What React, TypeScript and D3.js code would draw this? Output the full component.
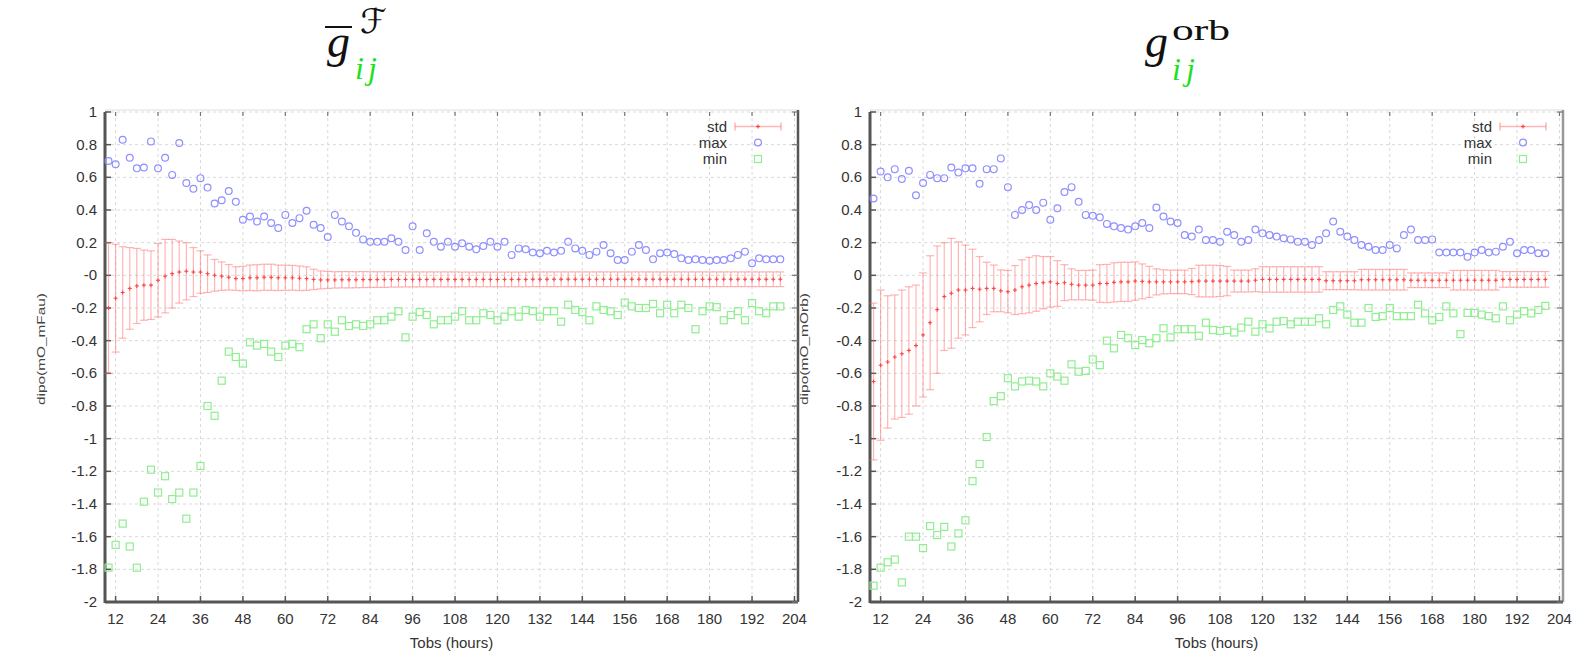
import React from 'react';
import * as d3 from 'd3';

const HOURS = [10,12,14,16,18,20,22,24,26,28,30,32,34,36,38,40,42,44,46,48,50,52,54,56,58,60,62,64,66,68,70,72,74,76,78,80,82,84,86,88,90,92,94,96,98,100,102,104,106,108,110,112,114,116,118,120,122,124,126,128,130,132,134,136,138,140,142,144,146,148,150,152,154,156,158,160,162,164,166,168,170,172,174,176,178,180,182,184,186,188,190,192,194,196,198,200];

const LEFT_MAX = [
  0.70,0.68,0.83,0.72,0.655,0.66,0.82,0.655,0.72,0.615,
  0.81,0.565,0.53,0.595,0.537,0.44,0.46,0.516,0.45,0.34,
  0.36,0.33,0.36,0.32,0.29,0.37,0.32,0.35,0.395,0.31,
  0.29,0.235,0.37,0.33,0.30,0.26,0.22,0.205,0.205,0.206,
  0.227,0.206,0.155,0.30,0.155,0.257,0.206,0.175,0.206,0.175,
  0.196,0.175,0.16,0.18,0.206,0.175,0.206,0.125,0.165,0.16,
  0.14,0.135,0.15,0.14,0.15,0.206,0.165,0.15,0.125,0.145,
  0.186,0.135,0.094,0.094,0.145,0.186,0.155,0.098,0.135,0.14,
  0.13,0.104,0.094,0.098,0.094,0.09,0.094,0.094,0.104,0.125,
  0.145,0.074,0.104,0.098,0.098,0.098
];

const LEFT_MIN = [
  -1.79,-1.65,-1.52,-1.66,-1.79,-1.386,-1.19,-1.33,-1.23,-1.37,
  -1.33,-1.49,-1.33,-1.167,-0.80,-0.86,-0.645,-0.467,-0.50,-0.54,
  -0.41,-0.43,-0.42,-0.467,-0.50,-0.43,-0.42,-0.44,-0.33,-0.30,
  -0.385,-0.30,-0.345,-0.275,-0.31,-0.30,-0.31,-0.30,-0.275,-0.275,
  -0.253,-0.22,-0.38,-0.253,-0.225,-0.243,-0.30,-0.275,-0.275,-0.253,
  -0.22,-0.275,-0.275,-0.232,-0.243,-0.275,-0.253,-0.22,-0.253,-0.212,
  -0.22,-0.253,-0.22,-0.22,-0.284,-0.18,-0.212,-0.225,-0.275,-0.19,
  -0.212,-0.22,-0.243,-0.167,-0.19,-0.20,-0.20,-0.175,-0.232,-0.18,
  -0.232,-0.18,-0.20,-0.33,-0.22,-0.19,-0.195,-0.275,-0.243,-0.22,
  -0.275,-0.17,-0.22,-0.232,-0.19,-0.19
];

const LEFT_MEAN = [
  -0.20,-0.14,-0.105,-0.08,-0.065,-0.06,-0.06,-0.03,-0.005,0.01,
  0.02,0.025,0.02,0.02,0.01,0.0,-0.005,-0.012,-0.02,-0.02,
  -0.015,-0.015,-0.012,-0.012,-0.015,-0.015,-0.015,-0.018,-0.02,-0.025,
  -0.028,-0.028,-0.028,-0.027,-0.027,-0.027,-0.026,-0.026,-0.026,-0.026,
  -0.025,-0.025,-0.025,-0.025,-0.025,-0.025,-0.025,-0.025,-0.025,-0.025,
  -0.025,-0.025,-0.025,-0.025,-0.025,-0.025,-0.025,-0.025,-0.025,-0.025,
  -0.024,-0.024,-0.024,-0.024,-0.024,-0.024,-0.024,-0.024,-0.024,-0.024,
  -0.024,-0.024,-0.024,-0.024,-0.024,-0.024,-0.024,-0.024,-0.024,-0.024,
  -0.024,-0.024,-0.024,-0.024,-0.024,-0.024,-0.024,-0.024,-0.024,-0.024,
  -0.024,-0.024,-0.024,-0.024,-0.024,-0.024
];

const LEFT_STD = [
  0.40,0.33,0.28,0.25,0.23,0.215,0.21,0.225,0.225,0.21,
  0.19,0.175,0.15,0.13,0.115,0.097,0.087,0.078,0.072,0.075,
  0.078,0.08,0.08,0.08,0.078,0.077,0.076,0.075,0.072,0.062,
  0.055,0.052,0.05,0.05,0.05,0.049,0.049,0.048,0.048,0.048,
  0.047,0.047,0.046,0.046,0.046,0.046,0.046,0.046,0.046,0.046,
  0.045,0.045,0.045,0.045,0.045,0.045,0.045,0.045,0.045,0.045,
  0.045,0.045,0.045,0.045,0.045,0.045,0.045,0.045,0.045,0.045,
  0.045,0.045,0.045,0.045,0.045,0.045,0.045,0.045,0.045,0.045,
  0.045,0.045,0.045,0.045,0.045,0.045,0.045,0.045,0.045,0.045,
  0.045,0.045,0.045,0.045,0.045,0.045
];

const RIGHT_MAX = [
  0.47,0.635,0.60,0.65,0.59,0.64,0.49,0.565,0.615,0.595,
  0.595,0.66,0.63,0.655,0.655,0.56,0.65,0.65,0.716,0.54,
  0.37,0.40,0.43,0.40,0.445,0.34,0.41,0.51,0.54,0.45,
  0.37,0.365,0.355,0.315,0.30,0.29,0.28,0.30,0.32,0.29,
  0.415,0.36,0.33,0.32,0.247,0.237,0.28,0.216,0.216,0.206,
  0.267,0.247,0.206,0.216,0.28,0.257,0.247,0.237,0.227,0.22,
  0.206,0.206,0.186,0.216,0.257,0.33,0.267,0.237,0.216,0.186,
  0.175,0.155,0.155,0.186,0.165,0.247,0.28,0.216,0.216,0.22,
  0.14,0.14,0.14,0.14,0.114,0.14,0.155,0.14,0.145,0.175,
  0.206,0.135,0.155,0.155,0.135,0.135
];

const RIGHT_MIN = [
  -1.90,-1.79,-1.757,-1.74,-1.88,-1.60,-1.60,-1.67,-1.535,-1.59,
  -1.54,-1.66,-1.58,-1.50,-1.26,-1.155,-0.99,-0.77,-0.74,-0.63,
  -0.68,-0.65,-0.645,-0.65,-0.68,-0.60,-0.62,-0.645,-0.545,-0.59,
  -0.585,-0.515,-0.55,-0.40,-0.447,-0.365,-0.385,-0.427,-0.396,-0.416,
  -0.385,-0.324,-0.38,-0.33,-0.33,-0.33,-0.37,-0.29,-0.335,-0.34,
  -0.335,-0.35,-0.32,-0.284,-0.345,-0.30,-0.325,-0.284,-0.28,-0.30,
  -0.284,-0.284,-0.284,-0.263,-0.30,-0.212,-0.19,-0.24,-0.29,-0.29,
  -0.20,-0.255,-0.25,-0.20,-0.25,-0.25,-0.25,-0.18,-0.233,-0.275,
  -0.255,-0.19,-0.233,-0.36,-0.23,-0.23,-0.24,-0.25,-0.263,-0.19,
  -0.275,-0.24,-0.22,-0.233,-0.212,-0.187
];

const RIGHT_MEAN = [
  -0.65,-0.55,-0.53,-0.50,-0.48,-0.46,-0.43,-0.365,-0.29,-0.21,
  -0.13,-0.11,-0.09,-0.09,-0.08,-0.085,-0.08,-0.08,-0.095,-0.10,
  -0.09,-0.07,-0.06,-0.05,-0.045,-0.04,-0.05,-0.045,-0.055,-0.06,
  -0.06,-0.06,-0.05,-0.05,-0.043,-0.04,-0.04,-0.035,-0.037,-0.04,
  -0.04,-0.04,-0.04,-0.04,-0.04,-0.038,-0.035,-0.035,-0.035,-0.035,
  -0.035,-0.035,-0.035,-0.035,-0.03,-0.025,-0.025,-0.025,-0.025,-0.025,
  -0.025,-0.025,-0.025,-0.025,-0.033,-0.033,-0.033,-0.033,-0.033,-0.027,
  -0.027,-0.027,-0.027,-0.027,-0.027,-0.027,-0.03,-0.03,-0.03,-0.03,
  -0.03,-0.03,-0.03,-0.03,-0.03,-0.03,-0.03,-0.03,-0.03,-0.025,
  -0.025,-0.025,-0.025,-0.025,-0.025,-0.025
];

const RIGHT_STD = [
  0.48,0.46,0.405,0.38,0.39,0.39,0.37,0.38,0.41,0.39,
  0.33,0.336,0.295,0.275,0.24,0.20,0.16,0.143,0.128,0.13,
  0.15,0.165,0.17,0.17,0.16,0.155,0.14,0.11,0.095,0.09,
  0.09,0.092,0.115,0.117,0.12,0.12,0.12,0.117,0.107,0.095,
  0.08,0.074,0.072,0.072,0.072,0.08,0.097,0.097,0.097,0.095,
  0.09,0.067,0.067,0.067,0.07,0.078,0.078,0.078,0.078,0.078,
  0.078,0.078,0.078,0.078,0.055,0.055,0.055,0.055,0.055,0.063,
  0.063,0.063,0.063,0.063,0.063,0.063,0.045,0.045,0.045,0.045,
  0.045,0.045,0.06,0.06,0.06,0.06,0.06,0.06,0.06,0.048,
  0.048,0.048,0.048,0.048,0.048,0.048
];

const X_TICKS = [12,24,36,48,60,72,84,96,108,120,132,144,156,168,180,192,204];
const Y_TICKS = [1,0.8,0.6,0.4,0.2,0,-0.2,-0.4,-0.6,-0.8,-1,-1.2,-1.4,-1.6,-1.8,-2];
const Y_LABELS_LEFT = ['1','0.8','0.6','0.4','0.2','-0','-0.2','-0.4','-0.6','-0.8','-1','-1.2','-1.4','-1.6','-1.8','-2'];
const Y_LABELS_RIGHT = ['1','0.8','0.6','0.4','0.2','0','-0.2','-0.4','-0.6','-0.8','-1','-1.2','-1.4','-1.6','-1.8','-2'];
const LEGEND_LABELS = ['std','max','min'];
const X_DOMAIN = [9,205];
const Y_DOMAIN = [-2,1];

const FONT = 'Liberation Sans, Arial, sans-serif';
const RED_BAR = 'rgba(255,110,110,0.5)';
const RED_PT = '#ff4444';
const BLUE = '#8f8fff';
const GREEN = '#8fee8f';

type PanelProps = {
  left: number; right: number; top: number; bottom: number;
  mean: number[]; std: number[]; max: number[]; min: number[];
  yTickLabels: string[]; yLabel: string; yLabelX: number;
  legendTextEnd: number; rightBorder: string;
};

function Panel(p: PanelProps) {
  const x = d3.scaleLinear().domain(X_DOMAIN).range([p.left, p.right]);
  const y = d3.scaleLinear().domain(Y_DOMAIN).range([p.bottom, p.top]);
  const cap = 4;
  const lt = p.legendTextEnd;
  const ly = [126.5, 142.5, 159];
  return (
    <g>
      {X_TICKS.map((t) => (
        <line key={'gx' + t} x1={x(t)} x2={x(t)} y1={p.top} y2={p.bottom}
          stroke="#d9d9d9" strokeWidth={1} strokeDasharray="3,3" />
      ))}
      {Y_TICKS.map((t) => (
        <line key={'gy' + t} x1={p.left} x2={p.right} y1={y(t)} y2={y(t)}
          stroke="#d9d9d9" strokeWidth={1} strokeDasharray="3,3" />
      ))}
      <line x1={p.left} x2={p.right + 1} y1={p.top - 2} y2={p.top - 2} stroke="#eeeeee" strokeWidth={2} />
      <line x1={p.right} x2={p.right} y1={p.top - 2} y2={p.bottom} stroke={p.rightBorder} strokeWidth={2.5} />
      <line x1={p.left} x2={p.left} y1={p.top} y2={p.bottom + 1} stroke="#555" strokeWidth={3} />
      <line x1={p.left} x2={p.right} y1={p.bottom} y2={p.bottom} stroke="#555" strokeWidth={3} />
      {X_TICKS.map((t) => (
        <g key={'tx' + t}>
          <line x1={x(t)} x2={x(t)} y1={p.bottom} y2={p.bottom - 6} stroke="#555" strokeWidth={1.5} />
          <line x1={x(t)} x2={x(t)} y1={p.top} y2={p.top + 4} stroke="#777" strokeWidth={1.2} />
          <text x={x(t)} y={p.bottom + 22} textAnchor="middle" fontFamily={FONT} fontSize={15} fill="#333">{t}</text>
        </g>
      ))}
      {Y_TICKS.map((t, i) => (
        <g key={'ty' + t}>
          <line x1={p.left} x2={p.left + 6} y1={y(t)} y2={y(t)} stroke="#555" strokeWidth={1.5} />
          <line x1={p.right} x2={p.right - 6} y1={y(t)} y2={y(t)} stroke="#777" strokeWidth={1.2} />
          <text x={p.left - 8} y={y(t) + 5} textAnchor="end" fontFamily={FONT} fontSize={15} fill="#333">{p.yTickLabels[i]}</text>
        </g>
      ))}
      <text x={(p.left + p.right) / 2} y={p.bottom + 46} textAnchor="middle" fontFamily={FONT} fontSize={15} fill="#333">Tobs (hours)</text>
      <text transform={`translate(${p.yLabelX},${(p.top + p.bottom) / 2 - 8}) rotate(-90)`} textAnchor="middle"
        fontFamily={FONT} fontSize={10} fill="#444" textLength={112} lengthAdjust="spacingAndGlyphs">{p.yLabel}</text>
      {HOURS.map((h, i) => {
        const cx = x(h);
        const y1 = y(p.mean[i] + p.std[i]);
        const y2 = y(p.mean[i] - p.std[i]);
        const ym = y(p.mean[i]);
        return (
          <g key={'e' + h}>
            <line x1={cx} x2={cx} y1={y1} y2={y2} stroke={RED_BAR} strokeWidth={1.2} />
            <line x1={cx - cap} x2={cx + cap} y1={y1} y2={y1} stroke={RED_BAR} strokeWidth={1.2} />
            <line x1={cx - cap} x2={cx + cap} y1={y2} y2={y2} stroke={RED_BAR} strokeWidth={1.2} />
            <line x1={cx - 2} x2={cx + 2} y1={ym} y2={ym} stroke={RED_PT} strokeWidth={1.1} />
            <line x1={cx} x2={cx} y1={ym - 2} y2={ym + 2} stroke={RED_PT} strokeWidth={1.1} />
          </g>
        );
      })}
      {HOURS.map((h, i) => (
        <circle key={'c' + h} cx={x(h)} cy={y(p.max[i])} r={3.4} fill="none" stroke={BLUE} strokeWidth={1.2} />
      ))}
      {HOURS.map((h, i) => (
        <rect key={'s' + h} x={x(h) - 3.5} y={y(p.min[i]) - 3.5} width={7} height={7} fill="none" stroke={GREEN} strokeWidth={1.2} />
      ))}
      {LEGEND_LABELS.map((l, i) => (
        <text key={'l' + l} x={lt} y={ly[i] + 5} textAnchor="end" fontFamily={FONT} fontSize={15} fill="#333">{l}</text>
      ))}
      <line x1={lt + 8} x2={lt + 54} y1={ly[0]} y2={ly[0]} stroke={RED_BAR} strokeWidth={1.5} />
      <line x1={lt + 8} x2={lt + 8} y1={ly[0] - 4} y2={ly[0] + 4} stroke={RED_BAR} strokeWidth={1.5} />
      <line x1={lt + 54} x2={lt + 54} y1={ly[0] - 4} y2={ly[0] + 4} stroke={RED_BAR} strokeWidth={1.5} />
      <line x1={lt + 29} x2={lt + 33} y1={ly[0]} y2={ly[0]} stroke={RED_PT} strokeWidth={1.2} />
      <line x1={lt + 31} x2={lt + 31} y1={ly[0] - 2} y2={ly[0] + 2} stroke={RED_PT} strokeWidth={1.2} />
      <circle cx={lt + 31} cy={ly[1]} r={3.4} fill="none" stroke={BLUE} strokeWidth={1.2} />
      <rect x={lt + 27.5} y={ly[2] - 3.5} width={7} height={7} fill="none" stroke={GREEN} strokeWidth={1.2} />
    </g>
  );
}

export default function App() {
  const serif = 'Liberation Serif, DejaVu Serif, serif';
  const ijGreen = '#1fe01f';
  return (
    <svg width={1580} height={651} style={{ position: 'absolute', left: 0, top: 0, background: '#fff' }}>
      <rect x={0} y={0} width={1580} height={651} fill="#ffffff" />
      <line x1={325} x2={352} y1={27} y2={27} stroke="#111" strokeWidth={2} />
      <text x={327} y={57} fontFamily={serif} fontStyle="italic" fontSize={46} fill="#111">g</text>
      <text x={360} y={33} fontFamily="DejaVu Sans, sans-serif" fontSize={34} fill="#111">ℱ</text>
      <text x={355} y={79} fontFamily={serif} fontStyle="italic" fontSize={32} fill={ijGreen} letterSpacing={4}>ij</text>
      <text x={1145} y={57} fontFamily={serif} fontStyle="italic" fontSize={46} fill="#111">g</text>
      <text x={1172} y={40} fontFamily={serif} fontSize={30} fill="#111" textLength={58} lengthAdjust="spacingAndGlyphs">orb</text>
      <text x={1172} y={80} fontFamily={serif} fontStyle="italic" fontSize={32} fill={ijGreen} letterSpacing={5}>ij</text>
      <Panel left={105} right={798} top={112} bottom={602}
        mean={LEFT_MEAN} std={LEFT_STD} max={LEFT_MAX} min={LEFT_MIN}
        yTickLabels={Y_LABELS_LEFT} yLabel="dipo(mO_mFau)" yLabelX={45}
        legendTextEnd={727} rightBorder="#555" />
      <Panel left={870} right={1563} top={112} bottom={602}
        mean={RIGHT_MEAN} std={RIGHT_STD} max={RIGHT_MAX} min={RIGHT_MIN}
        yTickLabels={Y_LABELS_RIGHT} yLabel="dipo(mO_mOrb)" yLabelX={808}
        legendTextEnd={1492} rightBorder="#999" />
    </svg>
  );
}
